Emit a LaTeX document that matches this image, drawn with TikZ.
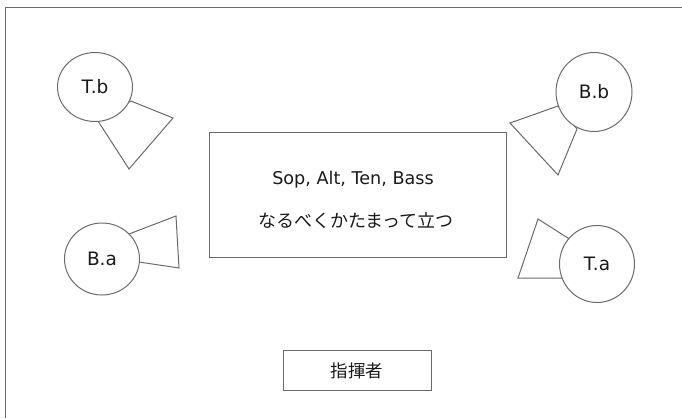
\documentclass[tikz,border=0pt]{standalone}
\usepackage{fontspec}
\setmainfont{DejaVu Sans}
\newfontfamily\jpfont{Noto Sans CJK JP}
\definecolor{linegray}{HTML}{6A6A6A}
\definecolor{textcol}{HTML}{1A1A1A}
\begin{document}
\begin{tikzpicture}[x=1pt,y=-1pt,
  ln/.style={draw=linegray,line width=1pt},
  singer/.style={ln,ellipse,fill=white,inner sep=0pt,text=textcol,font=\fontsize{18.5}{21}\selectfont},
  boxnode/.style={ln,rectangle,fill=white,inner sep=0pt,text=textcol},
  stand/.style={ln,line join=miter}]
\usetikzlibrary{shapes.geometric}
\useasboundingbox (0,0) rectangle (682,418);
% outer frame (top and left edges)
\draw[ln] (5,418) -- (5,7) -- (682,7);
% music stands
\draw[stand] (98,121) -- (129,169) -- (173,118) -- (131,101) -- cycle;
\draw[stand] (558,106) -- (510,123) -- (558,175) -- (577,129) -- cycle;
\draw[stand] (129,234) -- (176,216) -- (179,268) -- (139,262) -- cycle;
\draw[stand] (571,240) -- (538,219) -- (518,278) -- (563,278) -- cycle;
% singers
\node[singer,minimum width=75pt,minimum height=69pt] (tb) at (95,87) {T.b};
\node[singer,minimum width=76pt,minimum height=79pt] (bb) at (594,92) {B.b};
\node[singer,minimum width=75pt,minimum height=72pt] (ba) at (102,259) {B.a};
\node[singer,minimum width=75pt,minimum height=77pt] (ta) at (597,264) {T.a};
% choir block
\node[boxnode,minimum width=297pt,minimum height=125pt] (choir) at (357.5,195) {};
\node[text=textcol,font=\fontsize{17.6}{20}\selectfont] (parts) at (353,180) {Sop, Alt, Ten, Bass};
\node[text=textcol,font=\jpfont\fontsize{18}{20}\selectfont] (note) at (356,221) {なるべくかたまって立つ};
% conductor
\node[boxnode,minimum width=148pt,minimum height=40pt,font=\jpfont\fontsize{17.5}{20}\selectfont] (cond) at (357,370.5) {指揮者};
\end{tikzpicture}
\end{document}
